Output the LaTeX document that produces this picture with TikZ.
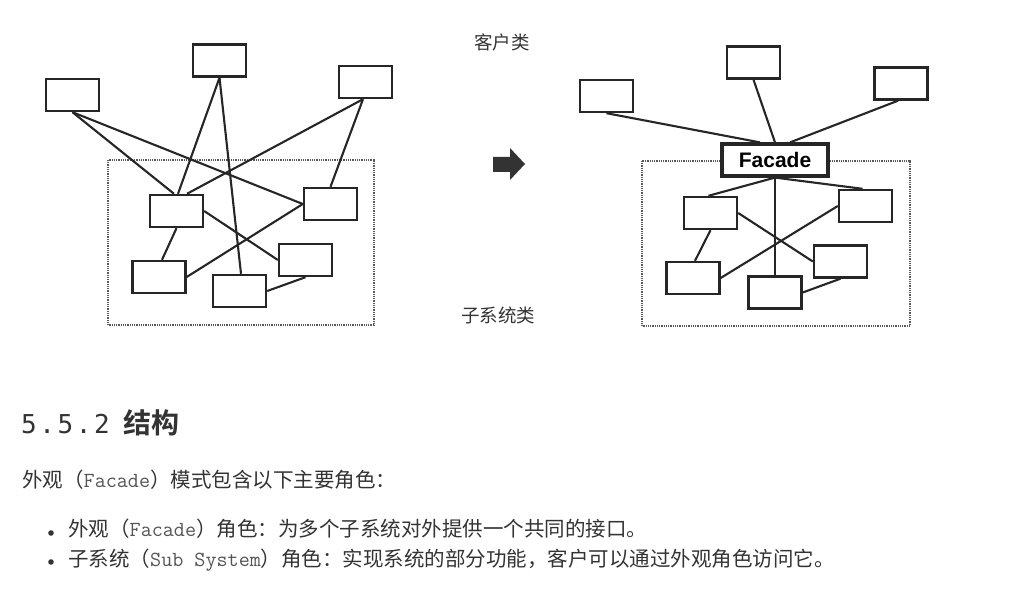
\documentclass[tikz,border=0pt]{standalone}
\usepackage{fontspec}
\usepackage{xcolor}
\newfontfamily\cjk[BoldFont={Noto Sans CJK SC Bold}]{Noto Sans CJK SC}
\newfontfamily\headmono[LetterSpace=10]{DejaVu Sans Mono}
\newfontfamily\facadefont{Liberation Sans}
\definecolor{txt}{HTML}{333333}
\definecolor{codegray}{HTML}{555555}
\newcommand{\codetxt}[1]{{\ttfamily\fontsize{21.5}{24}\selectfont\color{codegray}#1}}

\begin{document}
\begin{tikzpicture}[x=1pt, y=-1pt, every node/.style={inner sep=0pt}]
\tikzset{cls/.style={draw=black!85, line width=2.4pt, fill=white, minimum width=53pt, minimum height=32pt}}
\tikzset{link/.style={draw=black!85, line width=2.1pt}}
\tikzset{pkg/.style={draw=black!65, line width=1.9pt, dash pattern=on 1pt off 0.8pt}}
\tikzset{body/.style={anchor=base west, text=txt, font=\cjk\fontsize{20.5}{24}\selectfont}}
\tikzset{lbl/.style={anchor=base, text=black!80, font=\cjk\fontsize{18.5}{22}\selectfont}}
\useasboundingbox (0,0) rectangle (1013,609);

% before: clients talk to the subsystem directly
\draw[pkg] (108,160) rectangle (374,325);
\node[cls] (cA) at (72.5,95) {};
\node[cls] (cB) at (219.5,60.5) {};
\node[cls] (cC) at (365.5,82) {};
\node[cls] (s1) at (176.5,211) {};
\node[cls] (s2) at (330.5,204) {};
\node[cls] (s3) at (159,277) {};
\node[cls] (s4) at (239.5,291) {};
\node[cls] (s5) at (305.5,260) {};
\draw[link] (cA.south) -- ([xshift=-2.5pt]s1.north);
\draw[link] (cA.south) -- (s2.west);
\draw[link] (cB.south) -- ([xshift=1.5pt]s1.north);
\draw[link] (cB.south) -- ([xshift=1.5pt]s4.north);
\draw[link] ([xshift=-2.5pt]cC.south) -- ([xshift=10.5pt]s1.north);
\draw[link] ([xshift=-2.5pt]cC.south) -- (s2.north);
\draw[link] (s1.south) -- ([xshift=3pt]s3.north);
\draw[link] (s1.east) -- (s5.west);
\draw[link] (s3.east) -- (s2.west);
\draw[link] (s4.east) -- (s5.south);

% arrow and captions
\fill[black!80] (493,157) -- (510,157) -- (510,148) -- (525,164) -- (510,180) -- (510,172) -- (493,172) -- cycle;
\node[lbl] (clientlbl) at (502,50) {客户类};
\node[lbl] (sublbl) at (498,323) {子系统类};

% after: one facade in front of the subsystem
\draw[pkg] (642,161) rectangle (910,326);
\node[cls] (rA) at (606.5,96) {};
\node[cls] (rB) at (753.5,62.5) {};
\node[cls] (rC) at (901,83.5) {};
\node[cls] (r1) at (710.5,213) {};
\node[cls] (r2) at (865.5,206) {};
\node[cls] (r3) at (693,278) {};
\node[cls] (r4) at (775,292.5) {};
\node[cls] (r5) at (840.5,261.5) {};
\node[cls, line width=3.2pt, minimum width=106pt, font=\facadefont\bfseries\fontsize{21}{24}\selectfont] (facade) at (775,160) {Facade};
\draw[link] (rA.south) -- ([xshift=-15pt]facade.north);
\draw[link] (rB.south) -- (facade.north);
\draw[link] ([xshift=-3pt]rC.south) -- ([xshift=15pt]facade.north);
\draw[link] (facade.south) -- ([xshift=-2pt]r1.north);
\draw[link] (facade.south) -- (r4.north);
\draw[link] (facade.south) -- ([xshift=-3pt]r2.north);
\draw[link] (r1.south) -- ([xshift=2pt]r3.north);
\draw[link] (r1.east) -- (r5.west);
\draw[link] (r3.east) -- (r2.west);
\draw[link] (r4.east) -- (r5.south);

% text below
\node[anchor=base west, text=txt] (title) at (21,434) {{\headmono\fontsize{26}{30}\selectfont 5.5.2}\hspace{14pt}{\cjk\bfseries\fontsize{28}{32}\selectfont 结构}};
\node[body] (intro) at (22,488) {外观（\codetxt{Facade}）模式包含以下主要角色：};
\node[circle, fill=txt, minimum size=5.6pt] (dot1) at (51,533) {};
\node[circle, fill=txt, minimum size=5.6pt] (dot2) at (51,562) {};
\node[body] (item1) at (68,537) {外观（\codetxt{Facade}）角色：为多个子系统对外提供一个共同的接口。};
\node[body] (item2) at (68,567) {子系统（\codetxt{Sub System}）角色：实现系统的部分功能，客户可以通过外观角色访问它。};
\end{tikzpicture}
\end{document}
